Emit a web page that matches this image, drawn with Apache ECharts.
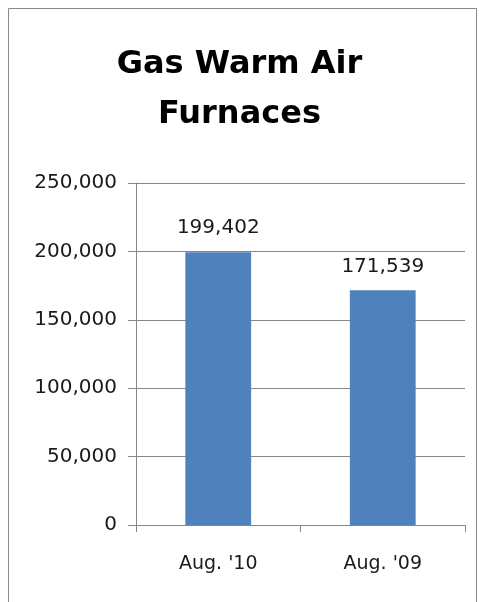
<!DOCTYPE html>
<html>
<head>
<meta charset="utf-8">
<script src="https://cdn.jsdelivr.net/npm/echarts@6/dist/echarts.min.js"></script>
<style>html,body{margin:0;padding:0;background:#fff;}#c{width:479px;height:602px;}</style>
</head>
<body>
<div id="c"></div>
<script>
const titleText = 'Gas Warm Air\nFurnaces';
const categories = ["Aug. '10", "Aug. '09"];
const values = [199402, 171539];
const yTicks = { min: 0, max: 250000, interval: 50000 };

const chart = echarts.init(document.getElementById('c'), null, { renderer: 'canvas' });
const fmt = v => v.toLocaleString('en-US');
const axisColor = '#868686';
const labelFont = 'DejaVu Sans';

chart.setOption({
  animation: false,
  backgroundColor: '#ffffff',
  title: {
    text: titleText,
    left: 'center',
    top: 35,
    textStyle: { fontFamily: 'DejaVu Sans', fontWeight: 'bold', fontSize: 32, lineHeight: 50, color: '#000' }
  },
  graphic: [{
    type: 'rect',
    shape: { x: 8.5, y: 8.5, width: 468, height: 600 },
    style: { fill: 'none', stroke: '#8a8a8a', lineWidth: 1 },
    silent: true
  }],
  grid: { left: 136, right: 14, top: 183, bottom: 77, containLabel: false },
  xAxis: {
    type: 'category',
    data: categories,
    axisLine: { show: true, lineStyle: { color: axisColor, width: 1 } },
    axisTick: { show: true, length: 7, lineStyle: { color: axisColor } },
    axisLabel: { color: '#1a1a1a', fontFamily: labelFont, fontSize: 19, margin: 30 }
  },
  yAxis: {
    type: 'value',
    min: yTicks.min, max: yTicks.max, interval: yTicks.interval,
    axisLine: { show: true, lineStyle: { color: axisColor, width: 1 } },
    axisTick: { show: true, length: 8, lineStyle: { color: axisColor } },
    splitLine: { show: true, lineStyle: { color: axisColor, width: 1 } },
    axisLabel: { color: '#1a1a1a', fontFamily: labelFont, fontSize: 20, margin: 19, formatter: v => fmt(v) }
  },
  series: [{
    type: 'bar',
    data: values,
    barWidth: '40%',
    itemStyle: { color: '#4F81BD' },
    label: {
      show: true, position: 'top', distance: 14,
      color: '#1a1a1a', fontFamily: labelFont, fontSize: 20,
      formatter: p => fmt(p.value)
    }
  }]
});
</script>
</body>
</html>
